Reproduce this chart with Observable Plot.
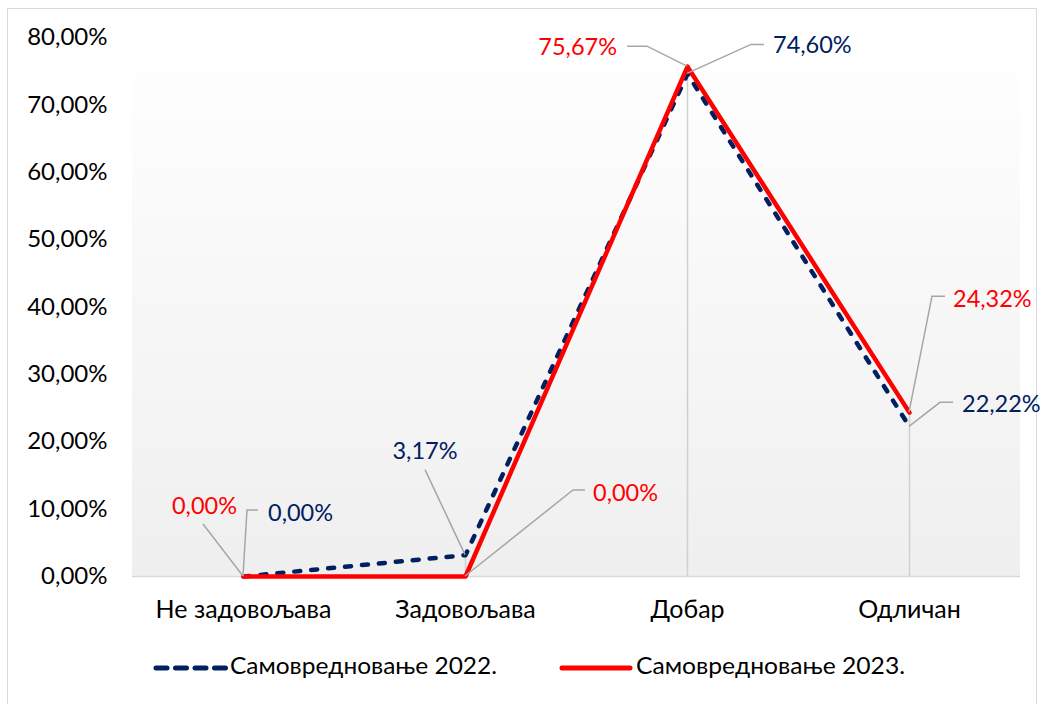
<!DOCTYPE html>
<html>
<head>
<meta charset="utf-8">
<script src="https://cdn.jsdelivr.net/npm/d3@7"></script>
<script src="https://cdn.jsdelivr.net/npm/@observablehq/plot@0.6"></script>
<style>
  html, body { margin: 0; padding: 0; background: #fff; }
  body { width: 1041px; height: 704px; position: relative; overflow: hidden; font-family: Lato, "Open Sans", sans-serif; }
  #frame { position: absolute; left: 7px; top: 8px; width: 1030px; height: 720px; border: 1.5px solid #d9d9d9; box-sizing: border-box; }
  #chart { position: absolute; left: 0; top: 0; }
  #legend { position: absolute; left: 0; top: 645px; }
</style>
</head>
<body>
<div id="frame"></div>
<div id="chart"></div>
<div id="legend"></div>
<script>
// ---- data ----
const categories = ["Не задовољава", "Задовољава", "Добар", "Одличан"];
const seriesNames = ["Самовредновање 2022.", "Самовредновање 2023."];
const values2022 = [0, 0.0317, 0.7460, 0.2222];
const values2023 = [0, 0, 0.7567, 0.2432];
const yTicks = [0, 0.1, 0.2, 0.3, 0.4, 0.5, 0.6, 0.7, 0.8];

// ---- styles / layout ----
const colors = ["#002060", "#ff0000"];
// label placement (pixel offsets from the point): text offset, anchor, leader path
const labelLayout2022 = [
  {dx: 25, dy: -64, anchor: "start", leader: [[0, 0], [4, -66], [15, -66]]},
  {dx: -40, dy: -105, anchor: "middle", leader: [[0, 0], [-40, -85]]},
  {dx: 86, dy: -29, anchor: "start", leader: [[0, 0], [64, -29], [77, -29]]},
  {dx: 53, dy: -23, anchor: "start", leader: [[0, 0], [31, -24], [44, -24]]}
];
const labelLayout2023 = [
  {dx: -6, dy: -71, anchor: "end", leader: [[0, 0], [-40, -52]]},
  {dx: 128, dy: -84, anchor: "start", leader: [[0, 0], [108, -86], [120, -86]]},
  {dx: -70, dy: -20, anchor: "end", leader: [[0, 0], [-40, -20], [-60, -20]]},
  {dx: 44, dy: -114, anchor: "start", leader: [[0, 0], [23, -116], [36, -116]]}
];
// legend: swatch start/end, text start, text width
const legendLayout = [
  {x1: 156, x2: 226, tx: 230, tw: 267},
  {x1: 562, x2: 630, tx: 636, tw: 269}
];

const locale = d3.formatLocale({decimal: ",", thousands: ".", grouping: [3], currency: ["", ""]});
const pct = locale.format(".2%");

const rows = [];
categories.forEach((c, i) => {
  rows.push({cat: c, value: values2022[i], series: seriesNames[0]});
  rows.push({cat: c, value: values2023[i], series: seriesNames[1]});
});
const drops = categories.map((c, i) => ({cat: c, value: Math.max(values2022[i], values2023[i])}));

const FONT = "Lato, 'Open Sans', sans-serif";

function background(index, scales, values, dimensions) {
  const {width, height, marginLeft, marginRight, marginTop, marginBottom} = dimensions;
  const g = d3.create("svg:g");
  const grad = g.append("defs").append("linearGradient")
    .attr("id", "pa-grad").attr("x1", 0).attr("y1", 0).attr("x2", 0).attr("y2", 1);
  grad.append("stop").attr("offset", "0%").attr("stop-color", "#ffffff");
  grad.append("stop").attr("offset", "100%").attr("stop-color", "#efefef");
  g.append("rect")
    .attr("x", marginLeft).attr("y", marginTop)
    .attr("width", width - marginLeft - marginRight)
    .attr("height", height - marginTop - marginBottom)
    .attr("fill", "url(#pa-grad)");
  return g.node();
}

function labels(index, scales) {
  const g = d3.create("svg:g");
  const sets = [[values2022, labelLayout2022, colors[0]], [values2023, labelLayout2023, colors[1]]];
  for (const [vals, layout, color] of sets) {
    vals.forEach((v, i) => {
      const px = scales.x(categories[i]);
      const py = scales.y(v);
      const L = layout[i];
      g.append("path")
        .attr("d", d3.line()(L.leader.map(([a, b]) => [px + a, py + b])))
        .attr("fill", "none").attr("stroke", "#a6a6a6").attr("stroke-width", 1.5);
      g.append("text")
        .attr("x", px + L.dx).attr("y", py + L.dy)
        .attr("text-anchor", L.anchor).attr("dominant-baseline", "central")
        .attr("fill", color).attr("font-size", 23.5).attr("font-family", FONT)
        .text(pct(v));
    });
  }
  return g.node();
}

const chart = Plot.plot({
  width: 1041,
  height: 630,
  marginLeft: 132,
  marginRight: 21,
  marginTop: 37,
  marginBottom: 54,
  style: {fontFamily: FONT, fontSize: "24px", color: "#000", background: "transparent", overflow: "visible"},
  x: {type: "point", domain: categories, padding: 0.5, label: null, tickSize: 0, tickPadding: 24},
  y: {domain: [0, 0.8], ticks: yTicks, tickFormat: pct, label: null, tickSize: 0, tickPadding: 25},
  marks: [
    background,
    Plot.ruleY([0], {stroke: "#d9d9d9", strokeWidth: 1.5}),
    Plot.ruleX(drops, {x: "cat", y1: 0, y2: "value", stroke: "#d0d0d0", strokeWidth: 1.5}),
    Plot.line(rows.filter(d => d.series === seriesNames[0]), {
      x: "cat", y: "value", stroke: colors[0], strokeWidth: 4.5,
      strokeDasharray: "6,11", strokeLinecap: "round", strokeLinejoin: "round"
    }),
    Plot.line(rows.filter(d => d.series === seriesNames[1]), {
      x: "cat", y: "value", stroke: colors[1], strokeWidth: 4.5,
      strokeLinecap: "round", strokeLinejoin: "round"
    }),
    Plot.axisX({fontSize: 25, tickSize: 0, tickPadding: 24, label: null}),
    labels
  ]
});
document.getElementById("chart").appendChild(chart);

// legend (below the chart SVG)
const lsvg = d3.select("#legend").append("svg").attr("width", 1041).attr("height", 46);
seriesNames.forEach((name, i) => {
  const L = legendLayout[i];
  lsvg.append("line").attr("x1", L.x1).attr("x2", L.x2).attr("y1", 23).attr("y2", 23)
    .attr("stroke", colors[i]).attr("stroke-width", 5).attr("stroke-linecap", "round")
    .attr("stroke-dasharray", i === 0 ? "11,8.5" : null);
  lsvg.append("text").attr("x", L.tx).attr("y", 29)
    .attr("font-family", FONT).attr("font-size", 22.5).attr("fill", "#000")
    .attr("textLength", L.tw).attr("lengthAdjust", "spacingAndGlyphs")
    .text(name);
});
</script>
</body>
</html>
